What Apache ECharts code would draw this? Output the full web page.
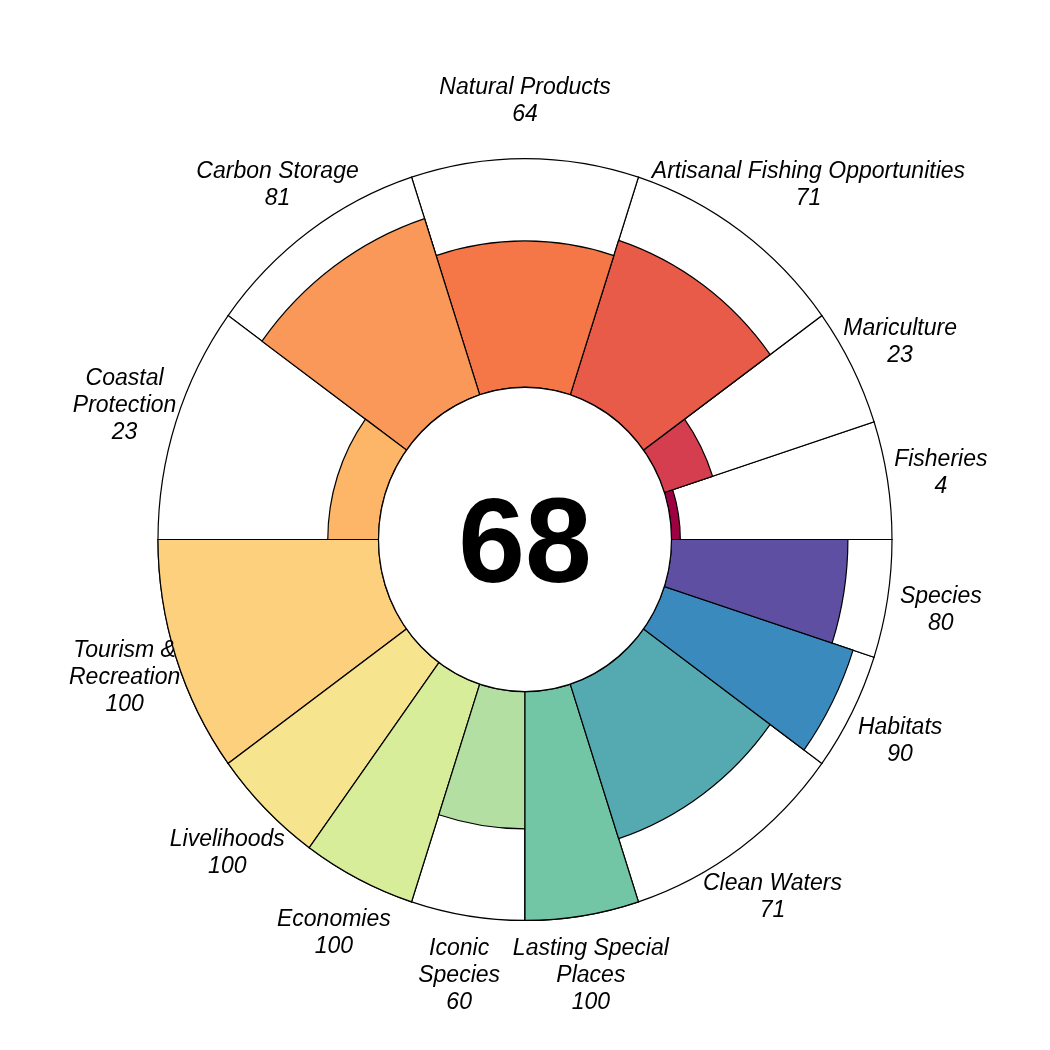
<!DOCTYPE html>
<html>
<head>
<meta charset="utf-8">
<script src="https://cdn.jsdelivr.net/npm/echarts@6/dist/echarts.min.js"></script>
<style>html,body{margin:0;padding:0;background:#fff;}#chart{width:1050px;height:1050px;}</style>
</head>
<body>
<div id="chart"></div>
<script>
// ---- data ----
const goals = ['Fisheries','Mariculture','Artisanal Fishing Opportunities','Natural Products','Carbon Storage','Coastal\nProtection','Tourism &\nRecreation','Livelihoods','Economies','Iconic\nSpecies','Lasting Special\nPlaces','Clean Waters','Habitats','Species'];
const scores = [4, 23, 71, 64, 81, 23, 100, 100, 100, 60, 100, 71, 90, 80];
const weights = [0.5, 0.5, 1, 1, 1, 1, 1, 0.5, 0.5, 0.5, 0.5, 1, 0.5, 0.5];
const colors = ['#9E0142','#D53E4F','#E85B48','#F57748','#F99858','#FDB567','#FDD07E','#F6E48E','#D8ED9A','#B3E0A2','#72C6A5','#55A9B0','#3A8ABD','#5E4FA2'];
const overallScore = 68;

// ---- build angular extents from weights ----
const totalW = weights.reduce((a, b) => a + b, 0);
let acc = 0;
const segs = weights.map((w, i) => {
  const a0 = acc / totalW * 360;
  acc += w;
  const a1 = acc / totalW * 360;
  return [a0, a1, scores[i], i];
});

const STRETCH_Y = 1.038;       // plot is slightly taller than wide
const labelNudge = {2: 36};

function sectorFor(params, api, val, a0, a1) {
  const cs = params.coordSys;
  const cx = cs.cx, cy = cs.cy;
  const mid = (a0 + a1) / 2;
  const p0 = api.coord([0, mid]);
  const p1 = api.coord([val, mid]);
  const r0 = Math.hypot(p0[0] - cx, p0[1] - cy);
  const r = Math.hypot(p1[0] - cx, p1[1] - cy);
  const pa = api.coord([100, a0]);
  const pb = api.coord([100, a1]);
  let s = Math.atan2(pb[1] - cy, pb[0] - cx);
  let e = Math.atan2(pa[1] - cy, pa[0] - cx);
  while (e <= s) e += Math.PI * 2;
  return { cx, cy, r0, r, startAngle: s, endAngle: e, clockwise: true };
}

const option = {
  backgroundColor: '#ffffff',
  animation: false,
  polar: { center: ['50%', 539.5], radius: [146.5, 367] },
  radiusAxis: { min: 0, max: 100, show: false, axisLine:{show:false}, axisTick:{show:false}, axisLabel:{show:false}, splitLine:{show:false} },
  angleAxis: { min: 0, max: 360, startAngle: 0, clockwise: false, show: false, axisLine:{show:false}, axisTick:{show:false}, axisLabel:{show:false}, splitLine:{show:false} },
  series: [
    {
      type: 'custom', coordinateSystem: 'polar', silent: true, z: 1,
      data: segs,
      renderItem: function (params, api) {
        const sh = sectorFor(params, api, 100, api.value(0), api.value(1));
        return { type: 'sector', shape: sh, originX: sh.cx, originY: sh.cy, scaleY: STRETCH_Y,
                 style: { fill: '#ffffff', stroke: '#000000', lineWidth: 1.2, strokeNoScale: true } };
      }
    },
    {
      type: 'custom', coordinateSystem: 'polar', silent: true, z: 2,
      data: segs,
      renderItem: function (params, api) {
        const sh = sectorFor(params, api, api.value(2), api.value(0), api.value(1));
        return { type: 'sector', shape: sh, originX: sh.cx, originY: sh.cy, scaleY: STRETCH_Y,
                 style: { fill: colors[params.dataIndex], stroke: '#000000', lineWidth: 1.2, strokeNoScale: true } };
      }
    },
    {
      type: 'custom', coordinateSystem: 'polar', silent: true, z: 3,
      data: [[0, 0, overallScore]],
      renderItem: function (params, api) {
        const cs = params.coordSys;
        const p0 = api.coord([0, 0]);
        const r0 = Math.hypot(p0[0] - cs.cx, p0[1] - cs.cy);
        return { type: 'group', children: [
          { type: 'ellipse', shape: { cx: cs.cx, cy: cs.cy, rx: r0, ry: r0 * STRETCH_Y }, style: { fill: '#ffffff', stroke: '#000000', lineWidth: 1.2 } },
          { type: 'text', x: cs.cx, y: cs.cy + 9, style: { text: String(api.value(2)), fontFamily: 'Liberation Sans, Arial, sans-serif', fontWeight: 'bold', fontSize: 120, fill: '#000', align: 'center', verticalAlign: 'middle' } }
        ]};
      }
    },
    {
      type: 'custom', coordinateSystem: 'polar', silent: true, z: 4,
      data: segs,
      renderItem: function (params, api) {
        const cs = params.coordSys;
        const a0 = api.value(0), a1 = api.value(1);
        const mid = (a0 + a1) / 2;
        const p = api.coord([100, mid]);
        const R = Math.hypot(p[0] - cs.cx, p[1] - cs.cy);
        const ux = (p[0] - cs.cx) / R, uy = (p[1] - cs.cy) / R;
        const i = params.dataIndex;
        const x = cs.cx + ux * 421 + (labelNudge[i] || 0);
        const y = cs.cy + uy * 440 + 2;
        return { type: 'text', x: x, y: y, style: { text: goals[i] + '\n' + api.value(2), fontFamily: 'Liberation Sans, Arial, sans-serif', fontStyle: 'italic', fontSize: 23, lineHeight: 27, fill: '#000', align: 'center', verticalAlign: 'middle' } };
      }
    }
  ]
};

const chart = echarts.init(document.getElementById('chart'), null, { renderer: 'canvas' });
chart.setOption(option);
</script>
</body>
</html>
